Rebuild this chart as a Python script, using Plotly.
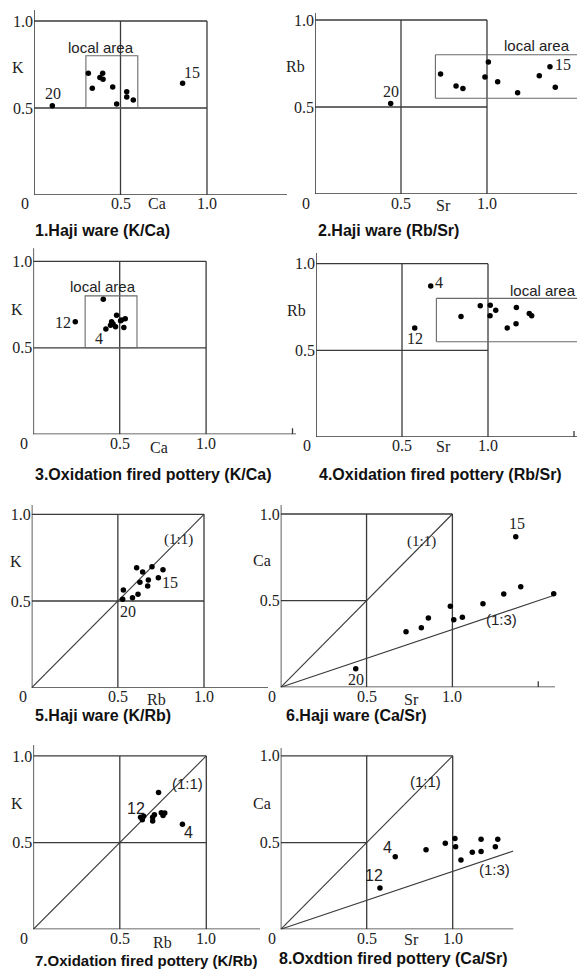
import plotly.graph_objects as go

# ---------------- data ----------------
# Panel 1: Haji ware, Ca (x) vs K (y)
p1_ca = [0.106, 0.314, 0.397, 0.381, 0.399, 0.337, 0.455, 0.536, 0.536, 0.574, 0.478, 0.859]
p1_k = [0.513, 0.700, 0.700, 0.676, 0.665, 0.613, 0.621, 0.594, 0.563, 0.546, 0.523, 0.642]
p1_ids = {"20": 0, "15": 11}

# Panel 2: Haji ware, Sr (x) vs Rb (y)
p2_sr = [0.440, 0.730, 0.820, 0.860, 0.988, 1.008, 1.062, 1.178, 1.304, 1.366, 1.397]
p2_rb = [0.520, 0.690, 0.620, 0.607, 0.672, 0.759, 0.645, 0.582, 0.680, 0.732, 0.613]
p2_ids = {"20": 0, "15": 9}

# Panel 3: Oxidation fired pottery, Ca (x) vs K (y)
p3_ca = [0.243, 0.405, 0.420, 0.482, 0.453, 0.462, 0.476, 0.447, 0.505, 0.524, 0.532, 0.510]
p3_k = [0.651, 0.780, 0.609, 0.688, 0.651, 0.638, 0.622, 0.630, 0.657, 0.618, 0.668, 0.660]
p3_ids = {"12": 0, "4": 2}

# Panel 4: Oxidation fired pottery, Sr (x) vs Rb (y)
p4_sr = [0.667, 0.574, 0.843, 0.955, 1.013, 1.045, 1.012, 1.165, 1.112, 1.163, 1.240, 1.254]
p4_rb = [0.871, 0.629, 0.696, 0.758, 0.760, 0.731, 0.700, 0.747, 0.629, 0.654, 0.712, 0.700]
p4_ids = {"4": 0, "12": 1}

# Panel 5: Haji ware, Rb (x) vs K (y)
p5_rb = [0.528, 0.532, 0.585, 0.617, 0.609, 0.644, 0.698, 0.628, 0.677, 0.673, 0.735, 0.762]
p5_k = [0.510, 0.563, 0.519, 0.539, 0.692, 0.667, 0.698, 0.608, 0.621, 0.586, 0.634, 0.680]
p5_ids = {"20": 0, "15": 10}

# Panel 6: Haji ware, Sr (x) vs Ca (y)
p6_sr = [0.437, 0.730, 0.819, 0.860, 0.988, 1.008, 1.058, 1.178, 1.299, 1.369, 1.398, 1.590]
p6_ca = [0.107, 0.321, 0.344, 0.400, 0.467, 0.390, 0.404, 0.482, 0.538, 0.869, 0.580, 0.540]
p6_ids = {"20": 0, "15": 9}

# Panel 7: Oxidation fired pottery, Rb (x) vs K (y)
p7_rb = [0.620, 0.724, 0.638, 0.630, 0.690, 0.700, 0.690, 0.740, 0.750, 0.760, 0.862]
p7_k = [0.646, 0.789, 0.652, 0.632, 0.646, 0.660, 0.625, 0.672, 0.657, 0.670, 0.606]
p7_ids = {"12": 0, "4": 10}

# Panel 8: Oxidation fired pottery, Sr (x) vs Ca (y)
p8_sr = [0.577, 0.666, 0.845, 0.957, 1.013, 1.017, 1.048, 1.114, 1.165, 1.165, 1.248, 1.262]
p8_ca = [0.238, 0.418, 0.459, 0.496, 0.524, 0.476, 0.400, 0.444, 0.519, 0.449, 0.476, 0.519]
p8_ids = {"12": 0, "4": 1}

titles = ["1.Haji ware (K/Ca)", "2.Haji ware (Rb/Sr)",
          "3.Oxidation fired pottery (K/Ca)", "4.Oxidation fired pottery (Rb/Sr)",
          "5.Haji ware (K/Rb)", "6.Haji ware (Ca/Sr)",
          "7.Oxidation fired pottery (K/Rb)", "8.Oxdtion fired pottery (Ca/Sr)"]
x_names = ["Ca", "Sr", "Ca", "Sr", "Rb", "Sr", "Rb", "Sr"]
y_names = ["K", "Rb", "K", "Rb", "K", "Ca", "K", "Ca"]
x_tick_vals = [0, 0.5, 1.0]
x_tick_text = ["0", "0.5", "1.0"]
y_tick_vals = [0.5, 1.0]
y_tick_text = ["0.5", "1.0"]
area_label = "local area"

# ---------------- layout helpers ----------------
VIEW_W, VIEW_H = 585, 971
PAGE_MARGIN = 8                      # default <body> margin of the html page
W, H = VIEW_W - PAGE_MARGIN, VIEW_H - PAGE_MARGIN
SERIF = "Liberation Serif, Times New Roman, serif"
SANS = "Liberation Sans, Arial, sans-serif"
INK = "#222222"
LINE = "#3a3a3a"
FS = 16

def px_x(p):
    return (p - PAGE_MARGIN) / W

def px_y(p):
    return 1 - (p - PAGE_MARGIN) / H

# geometry per panel in screen pixels: x0, x1, xscale, y0, y1, yscale
geo = [
    (34.0, 287.0, 173.0, 195.0, 10.0, 174.0),
    (315.0, 585.0, 172.0, 194.0, 13.0, 174.0),
    (33.3, 296.0, 172.8, 434.3, 248.3, 173.0),
    (316.0, 585.0, 172.0, 437.0, 253.0, 173.3),
    (31.7, 268.0, 172.3, 687.7, 505.0, 173.4),
    (280.7, 555.0, 171.7, 687.3, 505.0, 173.3),
    (33.3, 260.0, 173.0, 929.3, 745.0, 173.4),
    (280.7, 513.3, 172.0, 929.3, 748.0, 173.5),
]
title_pos = [(33, 230), (316, 230), (33, 474), (317, 474),
             (33, 715), (284, 715), (33, 960), (277, 958)]
title_size = [16, 16, 16, 16, 16, 16, 15, 16]
ylab_frac = [0.735, 0.73, 0.72, 0.73, 0.727, 0.73, 0.727, 0.727]
xlab_frac = [0.71, 0.745, 0.73, 0.74, 0.725, 0.763, 0.748, 0.762]
xlab_drop = [9, 11, 13, 10, 12, 12, 13, 10]

data_x = [p1_ca, p2_sr, p3_ca, p4_sr, p5_rb, p6_sr, p7_rb, p8_sr]
data_y = [p1_k, p2_rb, p3_k, p4_rb, p5_k, p6_ca, p7_k, p8_ca]
ids = [p1_ids, p2_ids, p3_ids, p4_ids, p5_ids, p6_ids, p7_ids, p8_ids]
id_offsets = [
    {"20": (1, 12), "15": (9, 11)},
    {"20": (0, 12), "15": (13, 2)},
    {"12": (-12, -1), "4": (-7, -10)},
    {"4": (8, 4), "12": (0, -11)},
    {"20": (5, -12), "15": (12, -5)},
    {"20": (0, -11), "15": (1, 13)},
    {"12": (-5, 9), "4": (6, -8)},
    {"12": (-6, 13), "4": (-8, 9)},
]
id_fonts = [SERIF, SERIF, SERIF, SERIF, SERIF, SERIF, SANS, SANS]

fig = go.Figure()
shapes = []
annotations = []
layout = {}

for i in range(8):
    n = i + 1
    xa = "x" if n == 1 else f"x{n}"
    ya = "y" if n == 1 else f"y{n}"
    x0, x1, xs, y0, y1, ys = geo[i]
    xmax = (x1 - x0) / xs
    ymax = (y0 - y1) / ys

    layout["xaxis" if n == 1 else f"xaxis{n}"] = dict(
        domain=[px_x(x0), min(1.0, px_x(x1))], range=[0, xmax], anchor=ya, automargin=False,
        showgrid=False, zeroline=False, showline=False,
        showticklabels=False, ticks="", fixedrange=True)
    layout["yaxis" if n == 1 else f"yaxis{n}"] = dict(
        domain=[px_y(y0), px_y(y1)], range=[0, ymax], anchor=xa, automargin=False,
        showgrid=False, zeroline=False, showline=False,
        tickvals=y_tick_vals, ticktext=y_tick_text, ticks="",
        tickfont=dict(family=SERIF, size=FS, color=INK), fixedrange=True)

    # axis lines
    shapes.append(dict(type="line", xref=f"{xa} domain", yref=ya, x0=0, x1=1, y0=0, y1=0,
                       line=dict(color=LINE, width=1.6)))
    shapes.append(dict(type="line", xref=xa, yref=f"{ya} domain", x0=0, x1=0, y0=0, y1=1,
                       line=dict(color=LINE, width=1.6)))

    # x tick labels placed just under the axis
    for v, t in zip(x_tick_vals, x_tick_text):
        annotations.append(dict(text=t, xref=xa, yref=f"{ya} domain", x=v, y=0,
                                xshift=-9 if v == 0 else 0, yshift=-9, yanchor="middle",
                                showarrow=False, font=dict(family=SERIF, size=FS, color=INK)))

    # reference grid square (0..1)
    def seg(xa0, ya0, xa1, ya1, color=LINE, width=1.3):
        shapes.append(dict(type="line", xref=xa, yref=ya, x0=xa0, y0=ya0, x1=xa1, y1=ya1,
                           line=dict(color=color, width=width), layer="below"))

    seg(0, 1.0, 1.0, 1.0)
    seg(1.0, 0, 1.0, 1.0)
    seg(0.5, 0, 0.5, 1.0)
    if i in (5, 7):
        seg(0, 0.5, 0.5, 0.5)
    else:
        seg(0, 0.5, 1.0, 0.5)

    # local area boxes
    if i in (0, 2):
        shapes.append(dict(type="rect", xref=xa, yref=ya, x0=0.3, y0=0.5, x1=0.6, y1=0.8,
                           line=dict(color="#6a6a6a", width=1.1), layer="below"))
        annotations.append(dict(text=area_label, xref=xa, yref=ya, x=0.39 if i == 0 else 0.405,
                                y=0.845 if i == 0 else 0.853, showarrow=False,
                                font=dict(family=SANS, size=15, color=INK)))
    if i in (1, 3):
        seg(0.7, 0.8, xmax, 0.8, "#6a6a6a", 1.1)
        seg(0.7, 0.55, xmax, 0.55, "#6a6a6a", 1.1)
        seg(0.7, 0.55, 0.7, 0.8, "#6a6a6a", 1.1)
        annotations.append(dict(text=area_label, xref=xa, yref=ya, x=1.29 if i == 1 else 1.32,
                                y=0.852 if i == 1 else 0.846, showarrow=False,
                                font=dict(family=SANS, size=15, color=INK)))

    # ratio lines
    if i in (4, 5, 6, 7):
        seg(0, 0, 1.0, 1.0, LINE, 1.1)
        lbl = "(1;1)" if i == 7 else "(1:1)"
        pos = {4: (0.85, 0.852), 5: (0.82, 0.84), 6: (0.894, 0.843), 7: (0.839, 0.85)}[i]
        annotations.append(dict(text=lbl, xref=xa, yref=ya, x=pos[0], y=pos[1], showarrow=False,
                                font=dict(family=SERIF if i in (4, 5) else SANS, size=15, color=INK)))
    if i in (5, 7):
        seg(0, 0, xmax, xmax / 3.0, LINE, 1.1)
        pos = {5: (1.287, 0.392), 7: (1.242, 0.342)}[i]
        annotations.append(dict(text="(1:3)", xref=xa, yref=ya, x=pos[0], y=pos[1], showarrow=False,
                                font=dict(family=SANS, size=15, color=INK)))

    # extra tick at 1.5
    if i in (2, 3, 5):
        seg(1.5, 0, 1.5, 0.035, LINE, 1.3)

    # points
    fig.add_trace(go.Scatter(x=data_x[i], y=data_y[i], mode="markers", xaxis=xa, yaxis=ya,
                             marker=dict(color="#000000", size=5.5), showlegend=False,
                             hoverinfo="skip", cliponaxis=False))

    # sample ids
    for lab, idx in ids[i].items():
        dx, dy = id_offsets[i][lab]
        annotations.append(dict(text=lab, xref=xa, yref=ya, x=data_x[i][idx], y=data_y[i][idx],
                                xshift=dx, yshift=dy, showarrow=False,
                                font=dict(family=id_fonts[i], size=FS, color=INK)))

    # axis names
    annotations.append(dict(text=y_names[i], xref=f"{xa} domain", yref=ya, x=0, y=ylab_frac[i],
                            xanchor="right", xshift=-8, showarrow=False,
                            font=dict(family=SERIF, size=FS, color=INK)))
    annotations.append(dict(text=x_names[i], xref=xa, yref=f"{ya} domain", x=xlab_frac[i], y=0,
                            yanchor="middle", yshift=-xlab_drop[i], showarrow=False,
                            font=dict(family=SERIF, size=FS, color=INK)))

    # title
    tx, ty = title_pos[i]
    annotations.append(dict(text="<b>" + titles[i] + "</b>", xref="paper", yref="paper",
                            x=px_x(tx), y=px_y(ty), xanchor="left", yanchor="middle",
                            showarrow=False, font=dict(family=SANS, size=title_size[i], color="#111111")))

fig.update_layout(width=W, height=H, margin=dict(l=0, r=0, t=0, b=0, autoexpand=False),
                  paper_bgcolor="white", plot_bgcolor="rgba(0,0,0,0)",
                  shapes=shapes, annotations=annotations, **layout)

fig.write_html("out.html")
